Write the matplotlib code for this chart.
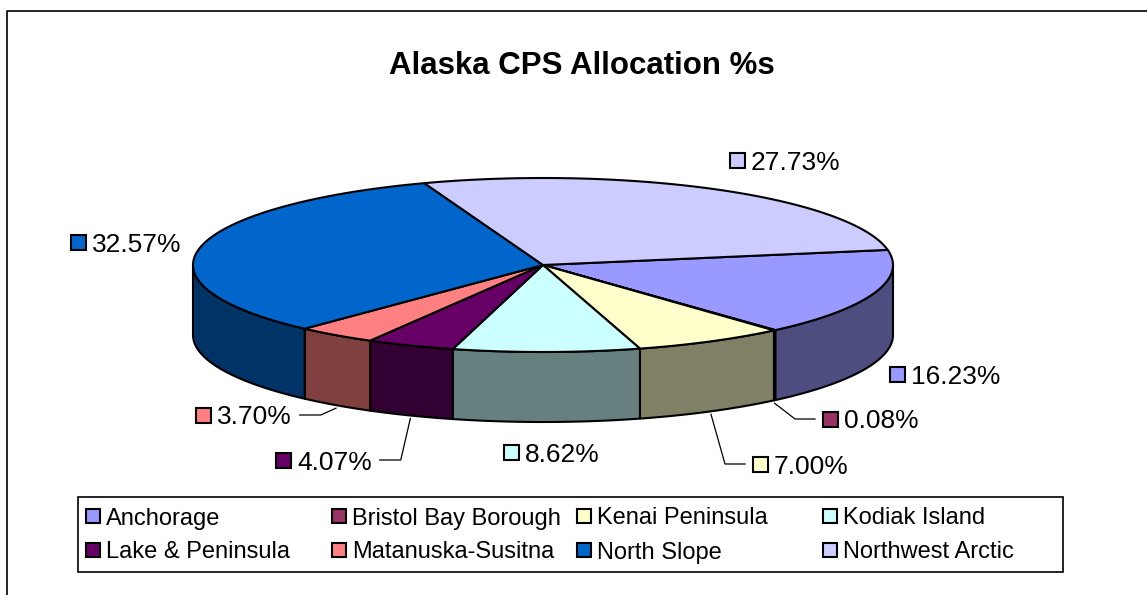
import matplotlib
matplotlib.use("Agg")
import matplotlib.pyplot as plt
from matplotlib.patches import Polygon, Rectangle
import numpy as np

plt.rcParams['font.family'] = ['Liberation Sans', 'DejaVu Sans']

# data
regions = ["Anchorage", "Bristol Bay Borough", "Kenai Peninsula", "Kodiak Island",
           "Lake & Peninsula", "Matanuska-Susitna", "North Slope", "Northwest Arctic"]
shares = [16.23, 0.08, 7.00, 8.62, 4.07, 3.70, 32.57, 27.73]
colors = ["#9999FF", "#993366", "#FFFFCC", "#CCFFFF",
          "#660066", "#FF8080", "#0066CC", "#CCCCFF"]
title = "Alaska CPS Allocation %s"

# layout (pixels)
W, H = 1147, 595
cx, cy, rx, ry, depth = 543, 265, 350, 87, 70
first_angle = 80
label_pos = [(897, 374), (830, 419), (760, 464), (511, 452),
             (283, 460), (203, 415), (78, 242), (737, 160)]
leader = [None, "right", "right", None, "left", "left", None, None]

fig = plt.figure(figsize=(W / 100, H / 100), dpi=100)
ax = fig.add_axes([0, 0, 1, 1])
ax.set_xlim(0, W)
ax.set_ylim(H, 0)
ax.axis("off")


def shade(c, f=0.5):
    r, g, b = matplotlib.colors.to_rgb(c)
    return (r * f, g * f, b * f)


def arc(a0, a1, dy=0, n=80):
    t = np.radians(np.linspace(a0, a1, n))
    return np.column_stack([cx + rx * np.sin(t), cy - ry * np.cos(t) + dy])


# outer chart frame
ax.plot([7, 7, W], [H, 11, 11], color="black", lw=1.2)

edges = first_angle + np.concatenate([[0], np.cumsum(shares)]) * 3.6

# side walls (front half only)
for i, c in enumerate(colors):
    s, e = max(edges[i], 90), min(edges[i + 1], 270)
    if e <= s:
        continue
    top = arc(s, e)
    bot = arc(e, s, depth)
    ax.add_patch(Polygon(np.vstack([top, bot]), closed=True, fc=shade(c),
                         ec="black", lw=1.5, joinstyle="round"))

# top faces
for i, c in enumerate(colors):
    pts = np.vstack([[cx, cy], arc(edges[i], edges[i + 1])])
    ax.add_patch(Polygon(pts, closed=True, fc=c, ec="black", lw=1.5,
                         joinstyle="round"))

# data labels
fs = 19
for i, (x, y) in enumerate(label_pos):
    ax.add_patch(Rectangle((x - 7.5, y - 7.5), 15, 15, fc=colors[i], ec="black",
                           lw=1.5, zorder=5))
    t = ax.text(x + 14, y + 9.5, "%.2f%%" % shares[i], fontsize=fs,
                ha="left", va="baseline", zorder=5)
    mid = (edges[i] + edges[i + 1]) / 2
    tx, ty = arc(mid, mid, depth + 3, 1)[0]
    if leader[i] == "right":
        x0 = x - 15
        ax.plot([x0, x0 - 20, tx], [y, y, ty], color="black", lw=0.9)
    elif leader[i] == "left":
        fig.canvas.draw()
        bb = t.get_window_extent().transformed(ax.transData.inverted())
        x0 = max(bb.x0, bb.x1) + 8
        ax.plot([x0, x0 + 21, tx], [y, y, ty], color="black", lw=0.9)

# title
ax.text(582, 74, title, fontsize=22.5, fontweight="bold", ha="center",
        va="baseline")

# legend
ax.add_patch(Rectangle((78, 497), 985, 75, fc="white", ec="black", lw=1.2))
col_x = [93, 339, 584, 830]
row_y = [516, 550]
for i, name in enumerate(regions):
    x = col_x[i % 4]
    y = row_y[i // 4]
    ax.add_patch(Rectangle((x - 7, y - 7), 14, 14, fc=colors[i], ec="black",
                           lw=1.5))
    ax.text(x + 13, y + 8.5, name, fontsize=17, ha="left", va="baseline")

fig.savefig("out.png", dpi=100)
